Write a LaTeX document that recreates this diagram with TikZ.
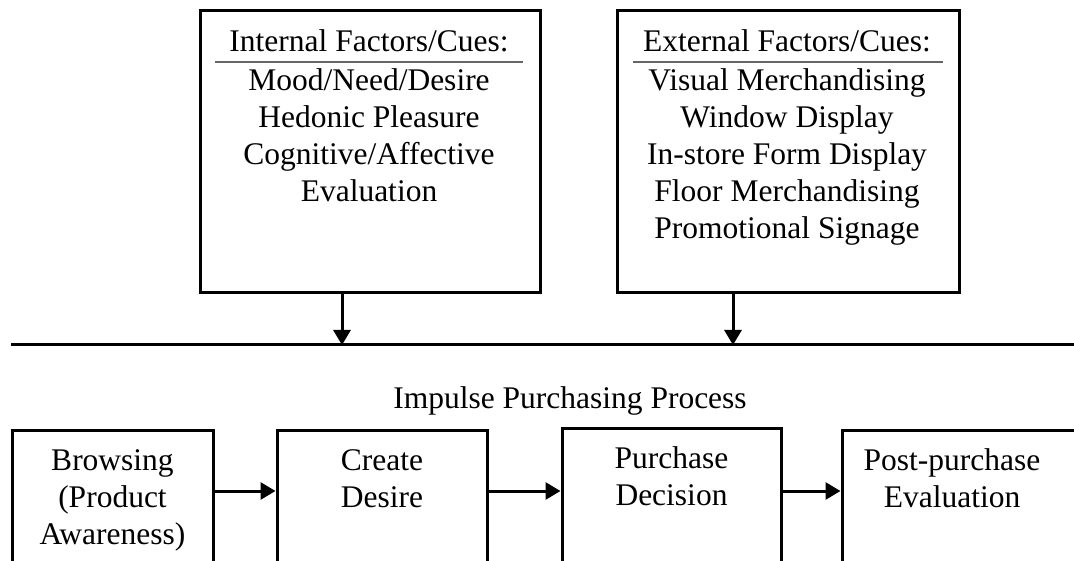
\documentclass[tikz,border=0pt]{standalone}
\usepackage{fontspec}
\setmainfont{Liberation Serif}
\usetikzlibrary{arrows.meta}
\begin{document}
\begin{tikzpicture}[x=1pt,y=-1pt,
  frame/.style={draw,line width=3pt,inner sep=0pt},
  txt/.style={font=\fontsize{31.5}{37}\selectfont,inner sep=0pt,anchor=base},
  flow/.style={line width=3pt,-{Triangle[length=15pt,width=17pt]}},
  sepline/.style={draw=black!60,line width=1.3pt},
  baseline/.style={line width=3pt}]
\useasboundingbox (0,0) rectangle (1074,561);
\clip (0,0) rectangle (1074,561);

% factor boxes
\node[frame,minimum width=340pt,minimum height=282pt] (intbox) at (370,152) {};
\node[frame,minimum width=342pt,minimum height=282pt] (extbox) at (788,152) {};

% internal cues
\node[txt] (inhead) at (369,52) {Internal Factors/Cues:};
\draw[sepline] (215,62) -- (523,62);
\node[txt] (in1) at (369,91)  {Mood/Need/Desire};
\node[txt] (in2) at (369,128) {Hedonic Pleasure};
\node[txt] (in3) at (369,165) {Cognitive/Affective};
\node[txt] (in4) at (369,202) {Evaluation};

% external cues
\node[txt] (exhead) at (787,52) {External Factors/Cues:};
\draw[sepline] (633,62) -- (943,62);
\node[txt] (ex1) at (787,91)  {Visual Merchandising};
\node[txt] (ex2) at (787,128) {Window Display};
\node[txt] (ex3) at (787,165) {In-store Form Display};
\node[txt] (ex4) at (787,202) {Floor Merchandising};
\node[txt] (ex5) at (787,239) {Promotional Signage};

% process line
\coordinate (lineL) at (11,345);
\coordinate (lineR) at (1080,345);
\draw[baseline] (lineL) -- (lineR);
\coordinate (inhit) at (342,345);
\coordinate (exhit) at (733,345);
\draw[flow] (intbox.south -| inhit) -- (inhit);
\draw[flow] (extbox.south -| exhit) -- (exhit);

\node[txt] (proc) at (570,408) {Impulse Purchasing Process};

% process steps
\node[frame,minimum width=201pt,minimum height=170pt] (s1) at (112.5,515) {};
\node[frame,minimum width=210pt,minimum height=170pt] (s2) at (382,515) {};
\node[frame,minimum width=219pt,minimum height=172pt] (s3) at (671.5,514) {};
\node[frame,minimum width=248pt,minimum height=170pt] (s4) at (966,515) {};

\node[txt] (s1a) at (112.5,470) {Browsing};
\node[txt] (s1b) at (112.5,507) {(Product};
\node[txt] (s1c) at (112.5,544) {Awareness)};
\node[txt] (s2a) at (382,470) {Create};
\node[txt] (s2b) at (382,507) {Desire};
\node[txt] (s3a) at (671.5,468) {Purchase};
\node[txt] (s3b) at (671.5,505) {Decision};
\node[txt] (s4a) at (952,470) {Post-purchase};
\node[txt] (s4b) at (952,507) {Evaluation};

\coordinate (flowy) at (0,491);
\draw[flow] (s1.east |- flowy) -- (s2.west |- flowy);
\draw[flow] (s2.east |- flowy) -- (s3.west |- flowy);
\draw[flow] (s3.east |- flowy) -- (s4.west |- flowy);
\end{tikzpicture}
\end{document}
